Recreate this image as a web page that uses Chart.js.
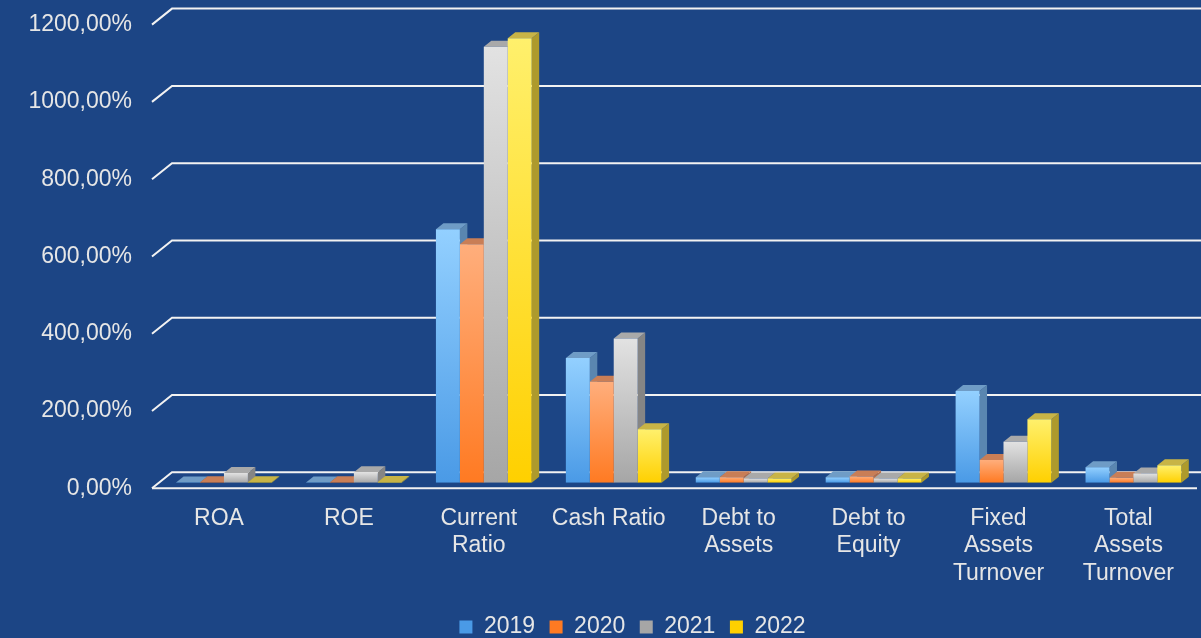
<!DOCTYPE html>
<html>
<head>
<meta charset="utf-8">
<script src="https://cdn.jsdelivr.net/npm/chart.js@4/dist/chart.umd.min.js"></script>
<style>
  html, body { margin: 0; padding: 0; background: #1C4585; }
  #wrap { width: 1201px; height: 638px; position: relative; }
</style>
</head>
<body>
<div id="wrap"><canvas id="c"></canvas></div>
<script>
const categories = ['ROA', 'ROE', ['Current', 'Ratio'], 'Cash Ratio', ['Debt to', 'Assets'], ['Debt to', 'Equity'], ['Fixed', 'Assets', 'Turnover'], ['Total', 'Assets', 'Turnover']];
const seriesNames = ['2019', '2020', '2021', '2022'];
const values2019 = [0.5, 0.6, 656, 323, 14, 14, 237, 40];
const values2020 = [1, 1.2, 617, 261, 14, 16, 59, 13];
const values2021 = [25, 27, 1128, 373, 11, 11, 106, 24];
const values2022 = [1, 1.5, 1150, 138, 11, 11, 164, 45];
const yTicks = [0, 200, 400, 600, 800, 1000, 1200];

const palette = [
  { top: '#93D0FF', bottom: '#4A9AE6', side: '#5A86B0', cap: '#6F9CC6', legend: '#6DB4F5' },
  { top: '#FFAE7C', bottom: '#FF7A22', side: '#B86E48', cap: '#C97E56', legend: '#FF9050' },
  { top: '#E2E2E2', bottom: '#A6A6A6', side: '#858585', cap: '#A9A9A9', legend: '#C8C8C8' },
  { top: '#FFF06C', bottom: '#FFD000', side: '#AE9A2C', cap: '#C8B446', legend: '#FFE23A' }
];

const DX = 7.5, DY = 6;
const FONT_FAMILY = 'Liberation Sans, Arial, sans-serif';
const FONT = { family: FONT_FAMILY, size: 23 };

function fmt(v) { return v.toFixed(2).replace('.', ',') + '%'; }

// width of the widest y tick label, to right-align the labels at x = 132
const mctx = document.createElement('canvas').getContext('2d');
mctx.font = '23px ' + FONT_FAMILY;
const widestY = Math.max(...yTicks.map(v => mctx.measureText(fmt(v)).width));

function frontFill(i) {
  return function (c) {
    const p = palette[i];
    if (c.type !== 'data') return p.legend;
    const ys = c.chart.scales.y;
    if (!ys) return p.bottom;
    const top = ys.getPixelForValue(c.raw);
    const base = ys.getPixelForValue(0);
    if (!isFinite(top) || !isFinite(base) || Math.abs(base - top) < 0.5) return p.bottom;
    const g = c.chart.ctx.createLinearGradient(0, top, 0, base);
    g.addColorStop(0, p.top);
    g.addColorStop(1, p.bottom);
    return g;
  };
}

const threeD = {
  id: 'threeD',
  beforeDatasetsDraw(chart) {
    const ctx = chart.ctx;
    const ys = chart.scales.y;
    const area = chart.chartArea;
    ctx.save();
    ctx.strokeStyle = '#F2F2F2';
    ctx.lineWidth = 2;
    const xf = area.left - 7, xb = area.left + 13;
    yTicks.forEach(v => {
      const y = ys.getPixelForValue(v);
      const back = y - 10.4, front = y + 5.6;
      ctx.beginPath();
      ctx.moveTo(xf, front);
      ctx.lineTo(xb, back);
      ctx.lineTo(chart.width, back);
      ctx.stroke();
      if (v === 0) {
        ctx.beginPath();
        ctx.moveTo(xf, front);
        ctx.lineTo(chart.width - 4, front);
        ctx.stroke();
      }
    });
    const metas = chart.data.datasets.map((d, i) => chart.getDatasetMeta(i));
    const n = chart.data.labels.length;
    for (let k = 0; k < n; k++) {
      metas.forEach((meta, i) => {
        const el = meta.data[k];
        if (!el) return;
        const p = palette[i];
        const w = el.width, left = el.x - w / 2, right = el.x + w / 2;
        const top = el.y, base = el.base;
        ctx.fillStyle = p.side;
        ctx.beginPath();
        ctx.moveTo(right, top);
        ctx.lineTo(right + DX, top - DY);
        ctx.lineTo(right + DX, base - DY);
        ctx.lineTo(right, base);
        ctx.closePath();
        ctx.fill();
        ctx.fillStyle = p.cap;
        ctx.beginPath();
        ctx.moveTo(left, top);
        ctx.lineTo(left + DX, top - DY);
        ctx.lineTo(right + DX, top - DY);
        ctx.lineTo(right, top);
        ctx.closePath();
        ctx.fill();
      });
    }
    ctx.restore();
  }
};

const seriesValues = [values2019, values2020, values2021, values2022];

new Chart(document.getElementById('c'), {
  type: 'bar',
  data: {
    labels: categories,
    datasets: seriesNames.map((name, i) => ({
      label: name,
      data: seriesValues[i],
      backgroundColor: frontFill(i),
      borderWidth: 0,
      categoryPercentage: 0.737,
      barPercentage: 1
    }))
  },
  options: {
    responsive: true,
    maintainAspectRatio: false,
    animation: false,
    events: [],
    layout: { padding: { left: 64, right: 0, top: 19, bottom: -10.5 } },
    plugins: {
      legend: {
        position: 'bottom',
        align: 'center',
        labels: { color: '#E6E6E6', font: FONT, boxWidth: 13, boxHeight: 13, padding: 14.5 }
      },
      tooltip: { enabled: false }
    },
    scales: {
      x: {
        grid: { display: false, drawTicks: false },
        border: { display: false },
        ticks: { color: '#E6E6E6', font: { ...FONT, lineHeight: 1.2 }, padding: 22, labelOffset: -5, maxRotation: 0, autoSkip: false },
        afterFit(scale) { scale.height = 118.3; }
      },
      y: {
        min: 0,
        max: 1200,
        grid: { display: false, drawTicks: false },
        border: { display: false },
        ticks: {
          color: '#E6E6E6', font: FONT, mirror: true, crossAlign: 'far',
          padding: -27 - widestY, labelOffset: 5.6, stepSize: 200,
          callback: v => fmt(v)
        },
        afterFit(scale) { scale.width = 95; }
      }
    }
  },
  plugins: [threeD]
});
</script>
</body>
</html>
